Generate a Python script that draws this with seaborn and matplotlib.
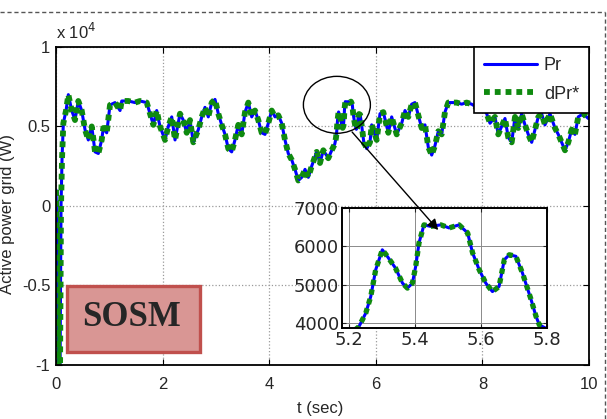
import matplotlib
matplotlib.use("Agg")
import matplotlib.pyplot as plt
import seaborn as sns
import pandas as pd
from matplotlib.patches import Rectangle, Ellipse, FancyArrowPatch
from matplotlib.lines import Line2D
from matplotlib.ticker import FuncFormatter

# time axis (s)
t_sec = [0.000, 0.019, 0.047, 0.075, 0.094, 0.113, 0.137, 0.188, 0.231, 0.295,
         0.356, 0.418, 0.482, 0.544, 0.606, 0.670, 0.732, 0.794, 0.857, 0.887,
         0.951, 1.013, 1.107, 1.201, 1.233, 1.356, 1.482, 1.576, 1.702, 1.764,
         1.826, 1.889, 1.951, 2.045, 2.107, 2.171, 2.233, 2.326, 2.388, 2.452,
         2.514, 2.576, 2.670, 2.734, 2.795, 2.857, 2.921, 2.983, 3.045, 3.109,
         3.171, 3.233, 3.296, 3.358, 3.420, 3.484, 3.546, 3.608, 3.672, 3.734,
         3.795, 3.859, 3.921, 3.983, 4.047, 4.109, 4.171, 4.235, 4.296, 4.358,
         4.422, 4.484, 4.546, 4.610, 4.672, 4.734, 4.797, 4.891, 4.953, 5.015,
         5.109, 5.173,
         5.231, 5.252, 5.267, 5.282, 5.302, 5.317, 5.342, 5.363, 5.378, 5.393,
         5.403, 5.413, 5.428, 5.448, 5.479, 5.504, 5.534, 5.560, 5.575, 5.595,
         5.615, 5.635, 5.655, 5.671, 5.686, 5.706, 5.726, 5.752, 5.767, 5.777,
         5.800,
         5.829, 5.891, 5.923, 6.017, 6.079, 6.141, 6.235, 6.298, 6.392, 6.486,
         6.548, 6.610, 6.674, 6.735, 6.797, 6.861, 6.923, 6.985, 7.049, 7.111,
         7.173, 7.236, 7.298, 7.360, 7.424, 7.518, 7.612, 7.705, 7.799, 7.893,
         7.974, 8.081, 8.143, 8.236, 8.298, 8.362, 8.424, 8.486, 8.550, 8.612,
         8.674, 8.737, 8.799, 8.861, 8.925, 8.987, 9.049, 9.112, 9.174, 9.268,
         9.362, 9.424, 9.488, 9.550, 9.612, 9.675, 9.737, 9.799, 9.893, 9.987,
         10.0]

# active power to grid (W)
pr_w = [1000, -2000, -10500, -10500, 0, 3000, 5200, 6000, 7000, 6000,
        5400, 6600, 6000, 4800, 4150, 5000, 3400, 3300, 4150, 4900,
        4600, 6350, 6500, 6000, 6600, 6600, 6500, 6600, 6500, 5800,
        5100, 6000, 5000, 4150, 5000, 5600, 4150, 5800, 5400, 4600,
        5400, 4000, 4800, 5600, 6200, 5600, 6500, 6700, 5800, 5100,
        4500, 3600, 3400, 4150, 5100, 4500, 5900, 6500, 5600, 6000,
        5400, 4600, 4500, 5200, 6000, 5600, 5700, 5200, 4150, 3300,
        2900, 2300, 1600, 1800, 2300, 1800, 2500, 3400, 2700, 3500,
        3000, 3500,
        3900, 4260, 4690, 5390, 5910, 5740, 5430, 5040, 4910, 5040,
        5480, 6090, 6560, 6520, 6560, 6480, 6560, 6350, 5830, 5390,
        5040, 4820, 4950, 5650, 5780, 5740, 5300, 4610, 4170, 3950,
        3850,
        3600, 4000, 5100, 4150, 5800, 5900, 4600, 5600, 4500, 5200,
        6000, 5600, 6400, 6500, 5700, 4900, 5100, 3700, 3200, 3800,
        4700, 4500, 5900, 6500, 6500, 6500, 6400, 6500, 6400, 6200,
        6400, 5800, 5200, 5600, 4500, 5000, 5500, 4300, 4000, 5600,
        4900, 5800, 5100, 4500, 4000, 4800, 5600, 5800, 5100, 5800,
        4900, 4500, 4000, 3500, 4000, 4800, 4500, 5600, 5800, 5500,
        5600]

# reference power tracks the measured one (curves overlap)
dpr_w = list(pr_w)

x_ticks = [0, 2, 4, 6, 8, 10]
y_ticks = [-10000, -5000, 0, 5000, 10000]
zoom_x_ticks = [5.2, 5.4, 5.6, 5.8]
zoom_y_ticks = [4000, 5000, 6000, 7000]

BLUE = "#0000ff"
GREEN = "#0f8a0f"
DOTS = (0, (1.0, 0.85))

sns.set_style("ticks")
plt.rcParams["font.family"] = ["Liberation Sans", "DejaVu Sans"]

df = pd.DataFrame({"t": t_sec, "Pr": pr_w, "dPr": dpr_w})

fig = plt.figure(figsize=(6.07, 4.19), dpi=100)
ax = fig.add_axes([0.0923, 0.129, 0.878, 0.759])

sns.lineplot(data=df, x="t", y="Pr", ax=ax, color=BLUE, lw=2.2,
             label="Pr", estimator=None, sort=False)
sns.lineplot(data=df, x="t", y="dPr", ax=ax, color=GREEN, lw=4.2,
             linestyle=DOTS, label="dPr*", estimator=None, sort=False)

ax.set_xlim(0, 10)
ax.set_ylim(-10000, 10000)
ax.set_xticks(x_ticks)
ax.set_yticks(y_ticks)
ax.yaxis.set_major_formatter(FuncFormatter(lambda v, _: f"{v / 1e4:g}"))
ax.set_xlabel("")
ax.set_ylabel("")
ax.grid(True, color="#9a9a9a", linestyle=":", linewidth=0.9)
ax.tick_params(direction="in", top=True, right=True, length=4,
               labelsize=12, color="black")
ax.tick_params(axis="x", pad=9)
ax.tick_params(axis="y", pad=4)
for s in ax.spines.values():
    s.set_visible(True)
    s.set_color("black")
    s.set_linewidth(1.3)

leg = ax.legend(loc="upper right", borderaxespad=0, fontsize=13,
                fancybox=False, edgecolor="black", framealpha=1,
                handlelength=2.9, handletextpad=0.4, borderpad=0.55,
                labelspacing=0.65)
leg.get_frame().set_linewidth(1.2)

ax.text(0.0, 1.015, r"x 10$^{4}$", transform=ax.transAxes,
        fontsize=12, ha="left", va="bottom")

# SOSM tag
ax.add_patch(Rectangle((0.0206, 0.0409), 0.2495, 0.2075, transform=ax.transAxes,
                       facecolor="#d99694", edgecolor="#c0504d", lw=2.4,
                       zorder=6))
ax.text(0.142, 0.148, "SOSM", transform=ax.transAxes, fontsize=25,
        fontweight="bold", family="Liberation Serif", ha="center",
        va="center", zorder=7)

# circle around the zoomed region
ax.add_patch(Ellipse((0.527, 0.818), 0.1257, 0.179, transform=ax.transAxes,
                     fill=False, edgecolor="black", lw=1.0, zorder=6))

# inset zoom
axin = fig.add_axes([0.5634, 0.2172, 0.3377, 0.2864])
sns.lineplot(data=df, x="t", y="Pr", ax=axin, color=BLUE, lw=2.2,
             legend=False, estimator=None, sort=False)
sns.lineplot(data=df, x="t", y="dPr", ax=axin, color=GREEN, lw=3.8,
             linestyle=DOTS, legend=False, estimator=None, sort=False)
axin.set_xlim(5.18, 5.8)
axin.set_ylim(3870, 7000)
axin.set_xticks(zoom_x_ticks)
axin.set_yticks(zoom_y_ticks)
axin.set_xlabel("")
axin.set_ylabel("")
axin.grid(True, color="#8a8a8a", linewidth=0.7)
axin.tick_params(direction="in", top=True, right=True, length=3,
                 labelsize=13, pad=2)
for lab in axin.get_xticklabels() + axin.get_yticklabels():
    lab.set_family("DejaVu Sans")
for s in axin.spines.values():
    s.set_visible(True)
    s.set_color("black")
    s.set_linewidth(1.4)

fig.add_artist(FancyArrowPatch((0.577, 0.690), (0.725, 0.446),
                               transform=fig.transFigure, arrowstyle="-|>",
                               mutation_scale=16, color="black", lw=1.0,
                               zorder=10))

fig.text(0.013, 0.49, "Active power grid (W)", rotation=90, fontsize=12,
         ha="center", va="center")
fig.text(0.527, 0.026, "t (sec)", fontsize=12, ha="center", va="center")

# dashed frame of the original screenshot
fig.add_artist(Line2D([0, 0.9967], [0.971, 0.971], transform=fig.transFigure,
                      color="#555555", lw=1.0, linestyle=(0, (3, 2))))
fig.add_artist(Line2D([0.9967, 0.9967], [0, 0.971], transform=fig.transFigure,
                      color="#555555", lw=1.0, linestyle=(0, (3, 2))))

fig.savefig("out.png", dpi=100)
